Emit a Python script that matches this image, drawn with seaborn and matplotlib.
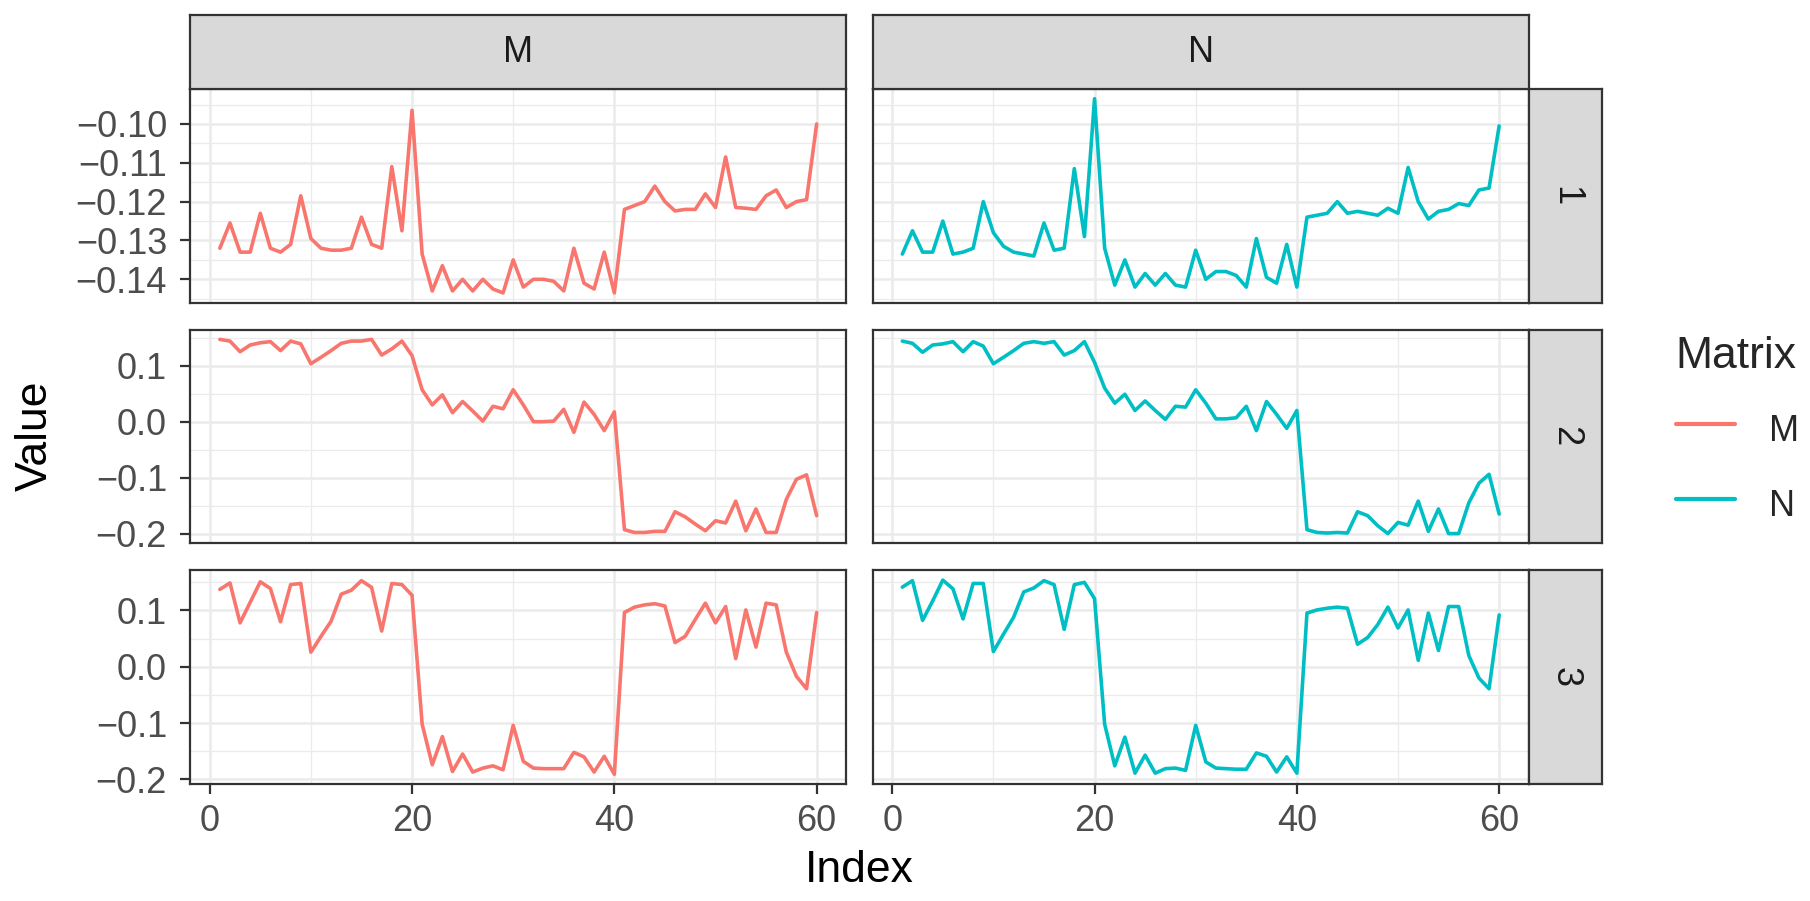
import numpy as np
import pandas as pd
import seaborn as sns
import matplotlib.pyplot as plt
from matplotlib.ticker import MultipleLocator, FuncFormatter

index = list(range(1, 61))

m_1 = [-0.132, -0.1255, -0.133, -0.133, -0.123, -0.132, -0.133, -0.131, -0.1185, -0.1295,
       -0.132, -0.1325, -0.1325, -0.132, -0.124, -0.131, -0.132, -0.111, -0.1275, -0.0965,
       -0.1335, -0.143, -0.1365, -0.143, -0.140, -0.143, -0.140, -0.1425, -0.1435, -0.135,
       -0.142, -0.140, -0.140, -0.1405, -0.143, -0.132, -0.141, -0.1425, -0.133, -0.1435,
       -0.122, -0.121, -0.120, -0.116, -0.120, -0.1224, -0.122, -0.122, -0.118, -0.1215,
       -0.1085, -0.1215, -0.1217, -0.122, -0.1185, -0.117, -0.1215, -0.120, -0.1195, -0.100]
n_1 = [-0.1335, -0.1275, -0.133, -0.133, -0.125, -0.1335, -0.133, -0.132, -0.120, -0.128,
       -0.1315, -0.133, -0.1335, -0.134, -0.1255, -0.1325, -0.132, -0.1115, -0.129, -0.0935,
       -0.132, -0.1415, -0.135, -0.142, -0.1385, -0.1415, -0.1385, -0.1415, -0.142, -0.1325,
       -0.140, -0.138, -0.138, -0.139, -0.142, -0.1295, -0.1395, -0.141, -0.131, -0.142,
       -0.124, -0.1235, -0.123, -0.120, -0.123, -0.1225, -0.123, -0.1235, -0.1217, -0.123,
       -0.1112, -0.120, -0.1245, -0.1225, -0.122, -0.1205, -0.121, -0.117, -0.1165, -0.1005]
m_2 = [0.147, 0.144, 0.125, 0.137, 0.141, 0.143, 0.127, 0.144, 0.139, 0.1035,
       0.115, 0.127, 0.140, 0.144, 0.144, 0.147, 0.119, 0.130, 0.144, 0.118,
       0.057, 0.030, 0.048, 0.016, 0.036, 0.019, 0.001, 0.0275, 0.023, 0.057,
       0.030, 0.000, 0.000, 0.001, 0.022, -0.019, 0.035, 0.013, -0.016, 0.0175,
       -0.193, -0.198, -0.198, -0.196, -0.196, -0.161, -0.170, -0.183, -0.195, -0.177,
       -0.181, -0.142, -0.195, -0.156, -0.198, -0.198, -0.139, -0.103, -0.095, -0.168]
n_2 = [0.144, 0.140, 0.124, 0.137, 0.139, 0.143, 0.125, 0.143, 0.135, 0.1035,
       0.115, 0.127, 0.140, 0.143, 0.140, 0.143, 0.119, 0.127, 0.143, 0.106,
       0.060, 0.033, 0.049, 0.020, 0.037, 0.020, 0.004, 0.0275, 0.026, 0.057,
       0.033, 0.005, 0.005, 0.007, 0.0275, -0.016, 0.036, 0.013, -0.012, 0.020,
       -0.193, -0.198, -0.199, -0.198, -0.199, -0.161, -0.168, -0.186, -0.200, -0.180,
       -0.185, -0.142, -0.196, -0.156, -0.200, -0.200, -0.145, -0.110, -0.094, -0.165]
m_3 = [0.1375, 0.149, 0.078, 0.1145, 0.151, 0.139, 0.080, 0.146, 0.148, 0.026,
       0.054, 0.081, 0.129, 0.136, 0.153, 0.141, 0.0635, 0.148, 0.146, 0.127,
       -0.102, -0.174, -0.124, -0.186, -0.155, -0.187, -0.180, -0.176, -0.183, -0.104,
       -0.168, -0.180, -0.181, -0.181, -0.181, -0.152, -0.160, -0.187, -0.159, -0.191,
       0.0965, 0.106, 0.110, 0.112, 0.108, 0.043, 0.054, 0.084, 0.113, 0.078,
       0.107, 0.0145, 0.101, 0.035, 0.113, 0.110, 0.026, -0.017, -0.039, 0.0965]
n_3 = [0.1415, 0.153, 0.0825, 0.117, 0.154, 0.1385, 0.085, 0.148, 0.148, 0.027,
       0.058, 0.088, 0.133, 0.140, 0.153, 0.146, 0.0665, 0.146, 0.150, 0.121,
       -0.102, -0.176, -0.125, -0.189, -0.157, -0.189, -0.181, -0.180, -0.184, -0.104,
       -0.169, -0.180, -0.181, -0.182, -0.182, -0.153, -0.159, -0.187, -0.160, -0.189,
       0.0955, 0.101, 0.104, 0.106, 0.104, 0.040, 0.052, 0.075, 0.106, 0.069,
       0.101, 0.0115, 0.0955, 0.029, 0.107, 0.107, 0.020, -0.020, -0.039, 0.092]

series = {("M", "1"): m_1, ("N", "1"): n_1,
          ("M", "2"): m_2, ("N", "2"): n_2,
          ("M", "3"): m_3, ("N", "3"): n_3}
rows = []
for (mat, r), vals in series.items():
    for i, v in zip(index, vals):
        rows.append([i, v, mat, r])
df = pd.DataFrame(rows, columns=["Index", "Value", "Matrix", "Row"])

sns.set_theme(style="white")
plt.rcParams["font.family"] = ["Liberation Sans", "DejaVu Sans"]

pal = {"M": "#F8766D", "N": "#00BFC4"}
g = sns.relplot(data=df, x="Index", y="Value", hue="Matrix", row="Row", col="Matrix",
                kind="line", palette=pal, linewidth=2.6, errorbar=None,
                row_order=["1", "2", "3"], col_order=["M", "N"],
                facet_kws=dict(sharey="row", sharex=True, margin_titles=False))
fig = g.figure
fig.set_size_inches(18.1, 9.01)
W, H = 1810, 901
fig.subplots_adjust(left=190 / W, right=1529 / W, top=1 - 89 / H, bottom=1 - 784 / H,
                    wspace=26 / 656, hspace=27 / 213)
g.set_axis_labels("", "")

def fmt(dec):
    def f(v, pos):
        if abs(v) < 1e-9:
            v = 0.0
        return f"{v:.{dec}f}".replace("-", "\u2212")
    return FuncFormatter(f)

edge = "#333333"
for ri, row_axes in enumerate(g.axes):
    for ci, ax in enumerate(row_axes):
        ax.set_title("")
        ax.set_facecolor("white")
        ax.xaxis.set_major_locator(MultipleLocator(20))
        ax.xaxis.set_minor_locator(MultipleLocator(10))
        if ri == 0:
            ax.yaxis.set_major_locator(MultipleLocator(0.01))
            ax.yaxis.set_minor_locator(MultipleLocator(0.005))
            ax.yaxis.set_major_formatter(fmt(2))
        else:
            ax.yaxis.set_major_locator(MultipleLocator(0.1))
            ax.yaxis.set_minor_locator(MultipleLocator(0.05))
            ax.yaxis.set_major_formatter(fmt(1))
        ax.grid(which="major", color="#ebebeb", lw=1.8)
        ax.grid(which="minor", color="#ebebeb", lw=0.9)
        ax.set_axisbelow(True)
        for s in ax.spines.values():
            s.set_visible(True)
            s.set_color(edge)
            s.set_linewidth(1.6)
        ax.tick_params(which="major", length=7.5, width=1.6, color=edge,
                       labelsize=26, labelcolor="#4d4d4d",
                       left=(ci == 0), bottom=(ri == 2))
        ax.tick_params(axis="y", pad=9)
        ax.tick_params(axis="x", pad=7)
        ax.tick_params(which="minor", length=0)
        ax.set_xlim(-1.95, 62.95)

# top strips
for ax, name in zip(g.axes[0], ["M", "N"]):
    b = ax.get_position()
    sax = fig.add_axes([b.x0, b.y1, b.width, 74 / H])
    sax.set_facecolor("#d9d9d9")
    sax.set_xticks([]); sax.set_yticks([])
    for s in sax.spines.values():
        s.set_color(edge); s.set_linewidth(1.6)
    sax.text(0.5, 0.5, name, ha="center", va="center", fontsize=26, color="#1a1a1a",
             transform=sax.transAxes)

# right strips
for ax, name in zip(g.axes[:, -1], ["1", "2", "3"]):
    b = ax.get_position()
    sax = fig.add_axes([b.x1, b.y0, 73 / W, b.height])
    sax.set_facecolor("#d9d9d9")
    sax.set_xticks([]); sax.set_yticks([])
    for s in sax.spines.values():
        s.set_color(edge); s.set_linewidth(1.6)
    sax.text(0.5, 0.5, name, ha="center", va="center", fontsize=26, color="#1a1a1a",
             rotation=-90, transform=sax.transAxes)

fig.text(859 / W, 1 - 870 / H, "Index", ha="center", va="center", fontsize=32, color="black")
fig.text(35 / W, 1 - 436 / H, "Value", ha="center", va="center", fontsize=32, rotation=90,
         color="black")

sns.move_legend(g, "center left", bbox_to_anchor=(1643 / W, 1 - 431 / H), title="Matrix",
                frameon=False, fontsize=26, title_fontsize=32, handlelength=1.65,
                handleheight=1.5, labelspacing=0.85, handletextpad=0.95, alignment="left")
for line in g._legend.get_lines():
    line.set_linewidth(3)

fig.savefig("out.png", dpi=100)
